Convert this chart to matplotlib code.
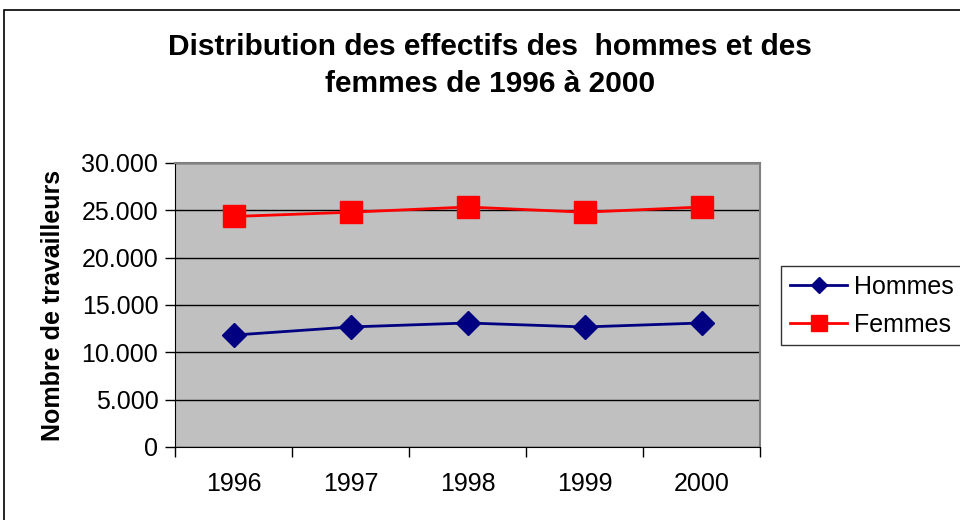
import matplotlib.pyplot as plt
from matplotlib.patches import Rectangle
from matplotlib.ticker import FuncFormatter

plt.rcParams['font.family'] = ['Liberation Sans', 'DejaVu Sans']

years = ["1996", "1997", "1998", "1999", "2000"]
hommes = [11820, 12680, 13100, 12680, 13100]
femmes = [24350, 24800, 25350, 24800, 25350]


def thousands(v, pos):
    v = int(round(v))
    if v == 0:
        return "0"
    return f"{v:,}".replace(",", ".")


def main():
    fig = plt.figure(figsize=(9.6, 5.2), dpi=100)
    fig.patch.set_facecolor("white")

    # outer chart border (cut by the image edge on the right and bottom)
    fig.patches.append(Rectangle((4 / 960, -0.05), 1.1, 1 - 10 / 520 + 0.05,
                                 transform=fig.transFigure, fill=False,
                                 edgecolor="black", linewidth=1.2))

    ax = fig.add_axes([175 / 960, 1 - 447 / 520, 585 / 960, 284 / 520])
    ax.set_facecolor("#C0C0C0")

    x = list(range(len(years)))
    ax.plot(x, hommes, color="#000080", linewidth=2, marker="D",
            markersize=12, label="Hommes", zorder=3)
    ax.plot(x, femmes, color="#FF0000", linewidth=2, marker="s",
            markersize=16, label="Femmes", zorder=3)

    ax.set_xlim(-0.5, len(years) - 0.5)
    ax.set_ylim(0, 30000)
    ax.set_yticks(range(0, 30001, 5000))
    ax.yaxis.set_major_formatter(FuncFormatter(thousands))
    ax.yaxis.grid(True, color="black", linewidth=1)
    ax.set_axisbelow(True)

    # categories centred between tick marks, like Excel
    ax.set_xticks([i - 0.5 for i in range(len(years) + 1)])
    ax.set_xticklabels([])
    ax.set_xticks(x, minor=True)
    ax.set_xticklabels(years, minor=True)
    ax.tick_params(axis="x", which="minor", length=0, pad=18, labelsize=18)
    ax.tick_params(axis="x", which="major", direction="out", length=7, width=1)
    ax.tick_params(axis="y", direction="out", length=7, width=1, labelsize=18, pad=5)

    for side in ("top", "right"):
        ax.spines[side].set_color("#808080")
        ax.spines[side].set_linewidth(1.5)
    ax.spines["left"].set_color("black")
    ax.spines["bottom"].set_color("black")

    ax.set_ylabel("Nombre de travailleurs", fontsize=18, fontweight="bold", labelpad=12)

    fig.text(490 / 960, 1 - 47 / 520, "Distribution des effectifs des  hommes et des",
             ha="center", va="center", fontsize=21.5, fontweight="bold")
    fig.text(490 / 960, 1 - 84 / 520, "femmes de 1996 à 2000",
             ha="center", va="center", fontsize=21.5, fontweight="bold")

    leg = fig.legend(loc="upper left", bbox_to_anchor=(781 / 960, 1 - 266 / 520),
                     fontsize=18, frameon=True, fancybox=False, edgecolor="black",
                     handlelength=2.3, handletextpad=0.25, borderpad=0.35,
                     borderaxespad=0, labelspacing=0.55, markerscale=0.7)
    leg.get_frame().set_linewidth(1)

    fig.savefig("out.png", dpi=100)
    plt.close(fig)


if __name__ == '__main__':
    main()
